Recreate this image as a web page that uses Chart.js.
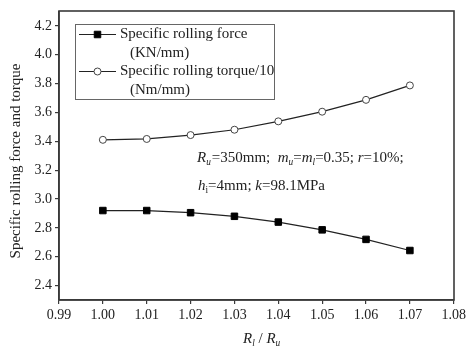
<!DOCTYPE html>
<html>
<head>
<meta charset="utf-8">
<script src="https://cdn.jsdelivr.net/npm/chart.js@4/dist/chart.umd.min.js"></script>
<style>
  html, body { margin: 0; padding: 0; background: #fff; }
  #wrap { width: 469px; height: 351px; position: relative; }
</style>
</head>
<body>
<div id="wrap"><canvas id="chart"></canvas></div>
<script>
// Chart data
const ratios = [1.00, 1.01, 1.02, 1.03, 1.04, 1.05, 1.06, 1.07];
const forceValues = [2.92, 2.92, 2.905, 2.88, 2.84, 2.786, 2.72, 2.643];
const torqueValues = [3.41, 3.416, 3.443, 3.48, 3.538, 3.605, 3.687, 3.787];
const xTicks = [0.99, 1.00, 1.01, 1.02, 1.03, 1.04, 1.05, 1.06, 1.07, 1.08];
const yTicks = [2.4, 2.6, 2.8, 3.0, 3.2, 3.4, 3.6, 3.8, 4.0, 4.2];
const forceLabel = ['Specific rolling force', '(KN/mm)'];
const torqueLabel = ['Specific rolling torque/10', '(Nm/mm)'];
const yTitle = 'Specific rolling force and torque';

const SERIF = "'Liberation Serif', 'DejaVu Serif', serif";
const INK = '#222';
const FRAME = '#3a3a3a';

// draws a run of text pieces: {t, it (italic), sub (subscript)}
function drawRich(ctx, pieces, x, y, size) {
    ctx.textBaseline = 'alphabetic';
    ctx.textAlign = 'left';
    pieces.forEach(p => {
        const fs = p.sub ? size * 0.62 : size;
        ctx.font = (p.it ? 'italic ' : '') + fs + 'px ' + SERIF;
        ctx.fillText(p.t, x, p.sub ? y + size * 0.22 : y);
        x += ctx.measureText(p.t).width + (p.gap || 0);
    });
}

const decorations = {
    id: 'decorations',
    afterDraw(chart) {
        const ctx = chart.ctx;
        const a = chart.chartArea;
        ctx.save();

        // frame round the plot
        ctx.strokeStyle = FRAME;
        ctx.lineWidth = 1.6;
        ctx.strokeRect(Math.round(a.left), Math.round(a.top),
            Math.round(a.right - a.left), Math.round(a.bottom - a.top));

        // legend inside the plot
        const lx = 75, ly = 24, lw = 199, lh = 75;
        ctx.strokeStyle = '#666';
        ctx.lineWidth = 1;
        ctx.strokeRect(lx + 0.5, ly + 0.5, lw, lh);
        const rows = [
            { ds: chart.data.datasets[0], y: 34 },
            { ds: chart.data.datasets[1], y: 71 }
        ];
        rows.forEach(r => {
            ctx.strokeStyle = INK;
            ctx.lineWidth = 1.2;
            ctx.beginPath();
            ctx.moveTo(79, r.y + 0.5);
            ctx.lineTo(116, r.y + 0.5);
            ctx.stroke();
            ctx.fillStyle = r.ds.pointBackgroundColor;
            ctx.strokeStyle = r.ds.pointBorderColor;
            ctx.lineWidth = r.ds.pointBorderWidth;
            ctx.beginPath();
            if (r.ds.pointStyle === 'rect') {
                const s = r.ds.pointRadius * Math.SQRT1_2;
                ctx.rect(97.5 - s, r.y + 0.5 - s, 2 * s, 2 * s);
            } else {
                ctx.arc(97.5, r.y + 0.5, r.ds.pointRadius, 0, Math.PI * 2);
            }
            ctx.fill();
            ctx.stroke();
            ctx.fillStyle = INK;
            ctx.font = '15px ' + SERIF;
            ctx.textBaseline = 'middle';
            ctx.textAlign = 'left';
            ctx.fillText(r.ds.label[0], 120, r.y);
            ctx.fillText(r.ds.label[1], 130, r.y + 19);
        });

        // parameter note
        ctx.fillStyle = INK;
        drawRich(ctx, [
            { t: 'R', it: true }, { t: 'u', it: true, sub: true, gap: 1 },
            { t: '=350mm;  ' }, { t: 'm', it: true }, { t: 'u', it: true, sub: true },
            { t: '=' }, { t: 'm', it: true }, { t: 'l', it: true, sub: true },
            { t: '=0.35; ' }, { t: 'r', it: true }, { t: '=10%;' }
        ], 197, 162, 15);
        drawRich(ctx, [
            { t: 'h', it: true }, { t: 'i', sub: true },
            { t: '=4mm; ' }, { t: 'k', it: true }, { t: '=98.1MPa' }
        ], 198, 190, 15);

        // x axis title
        drawRich(ctx, [
            { t: 'R', it: true }, { t: 'l', it: true, sub: true },
            { t: ' / ' }, { t: 'R', it: true }, { t: 'u', it: true, sub: true }
        ], 243, 343, 15);

        // y axis title
        ctx.translate(16, 161);
        ctx.rotate(-Math.PI / 2);
        ctx.font = '15px ' + SERIF;
        ctx.textAlign = 'center';
        ctx.textBaseline = 'middle';
        ctx.fillText(yTitle, 0, 0);
        ctx.restore();
    }
};

const tickFont = { family: SERIF, size: 14 };

new Chart(document.getElementById('chart'), {
    type: 'line',
    data: {
        datasets: [{
            label: forceLabel,
            data: ratios.map((x, i) => ({ x, y: forceValues[i] })),
            borderColor: INK,
            borderWidth: 1.2,
            pointStyle: 'rect',
            pointRadius: 4.6,
            pointBackgroundColor: '#000',
            pointBorderColor: '#000',
            pointBorderWidth: 1
        }, {
            label: torqueLabel,
            data: ratios.map((x, i) => ({ x, y: torqueValues[i] })),
            borderColor: INK,
            borderWidth: 1.2,
            pointStyle: 'circle',
            pointRadius: 3.5,
            pointBackgroundColor: '#fff',
            pointBorderColor: '#444',
            pointBorderWidth: 1
        }]
    },
    options: {
        responsive: true,
        maintainAspectRatio: false,
        animation: false,
        layout: { padding: { left: 0, right: 13, top: 5, bottom: 0 } },
        plugins: { legend: { display: false }, tooltip: { enabled: false } },
        scales: {
            x: {
                type: 'linear',
                min: 0.99,
                max: 1.08,
                afterBuildTicks: s => { s.ticks = xTicks.map(v => ({ value: v })); },
                afterFit: s => { s.height = 51; },
                grid: { drawOnChartArea: false, drawTicks: true, tickLength: 4, color: FRAME, lineWidth: 1.2 },
                border: { display: true, color: FRAME, width: 1.6 },
                ticks: {
                    color: INK, font: tickFont, padding: 3, maxRotation: 0,
                    callback: v => v.toFixed(2)
                }
            },
            y: {
                min: 2.3,
                max: 4.3,
                afterBuildTicks: s => { s.ticks = yTicks.map(v => ({ value: v })); },
                afterFit: s => { s.width = 59; },
                grid: { drawOnChartArea: false, drawTicks: true, tickLength: 4, color: FRAME, lineWidth: 1.2 },
                border: { display: true, color: FRAME, width: 1.6 },
                ticks: {
                    color: INK, font: tickFont, padding: 3,
                    callback: v => v.toFixed(1)
                }
            }
        }
    },
    plugins: [decorations]
});
</script>
</body>
</html>
